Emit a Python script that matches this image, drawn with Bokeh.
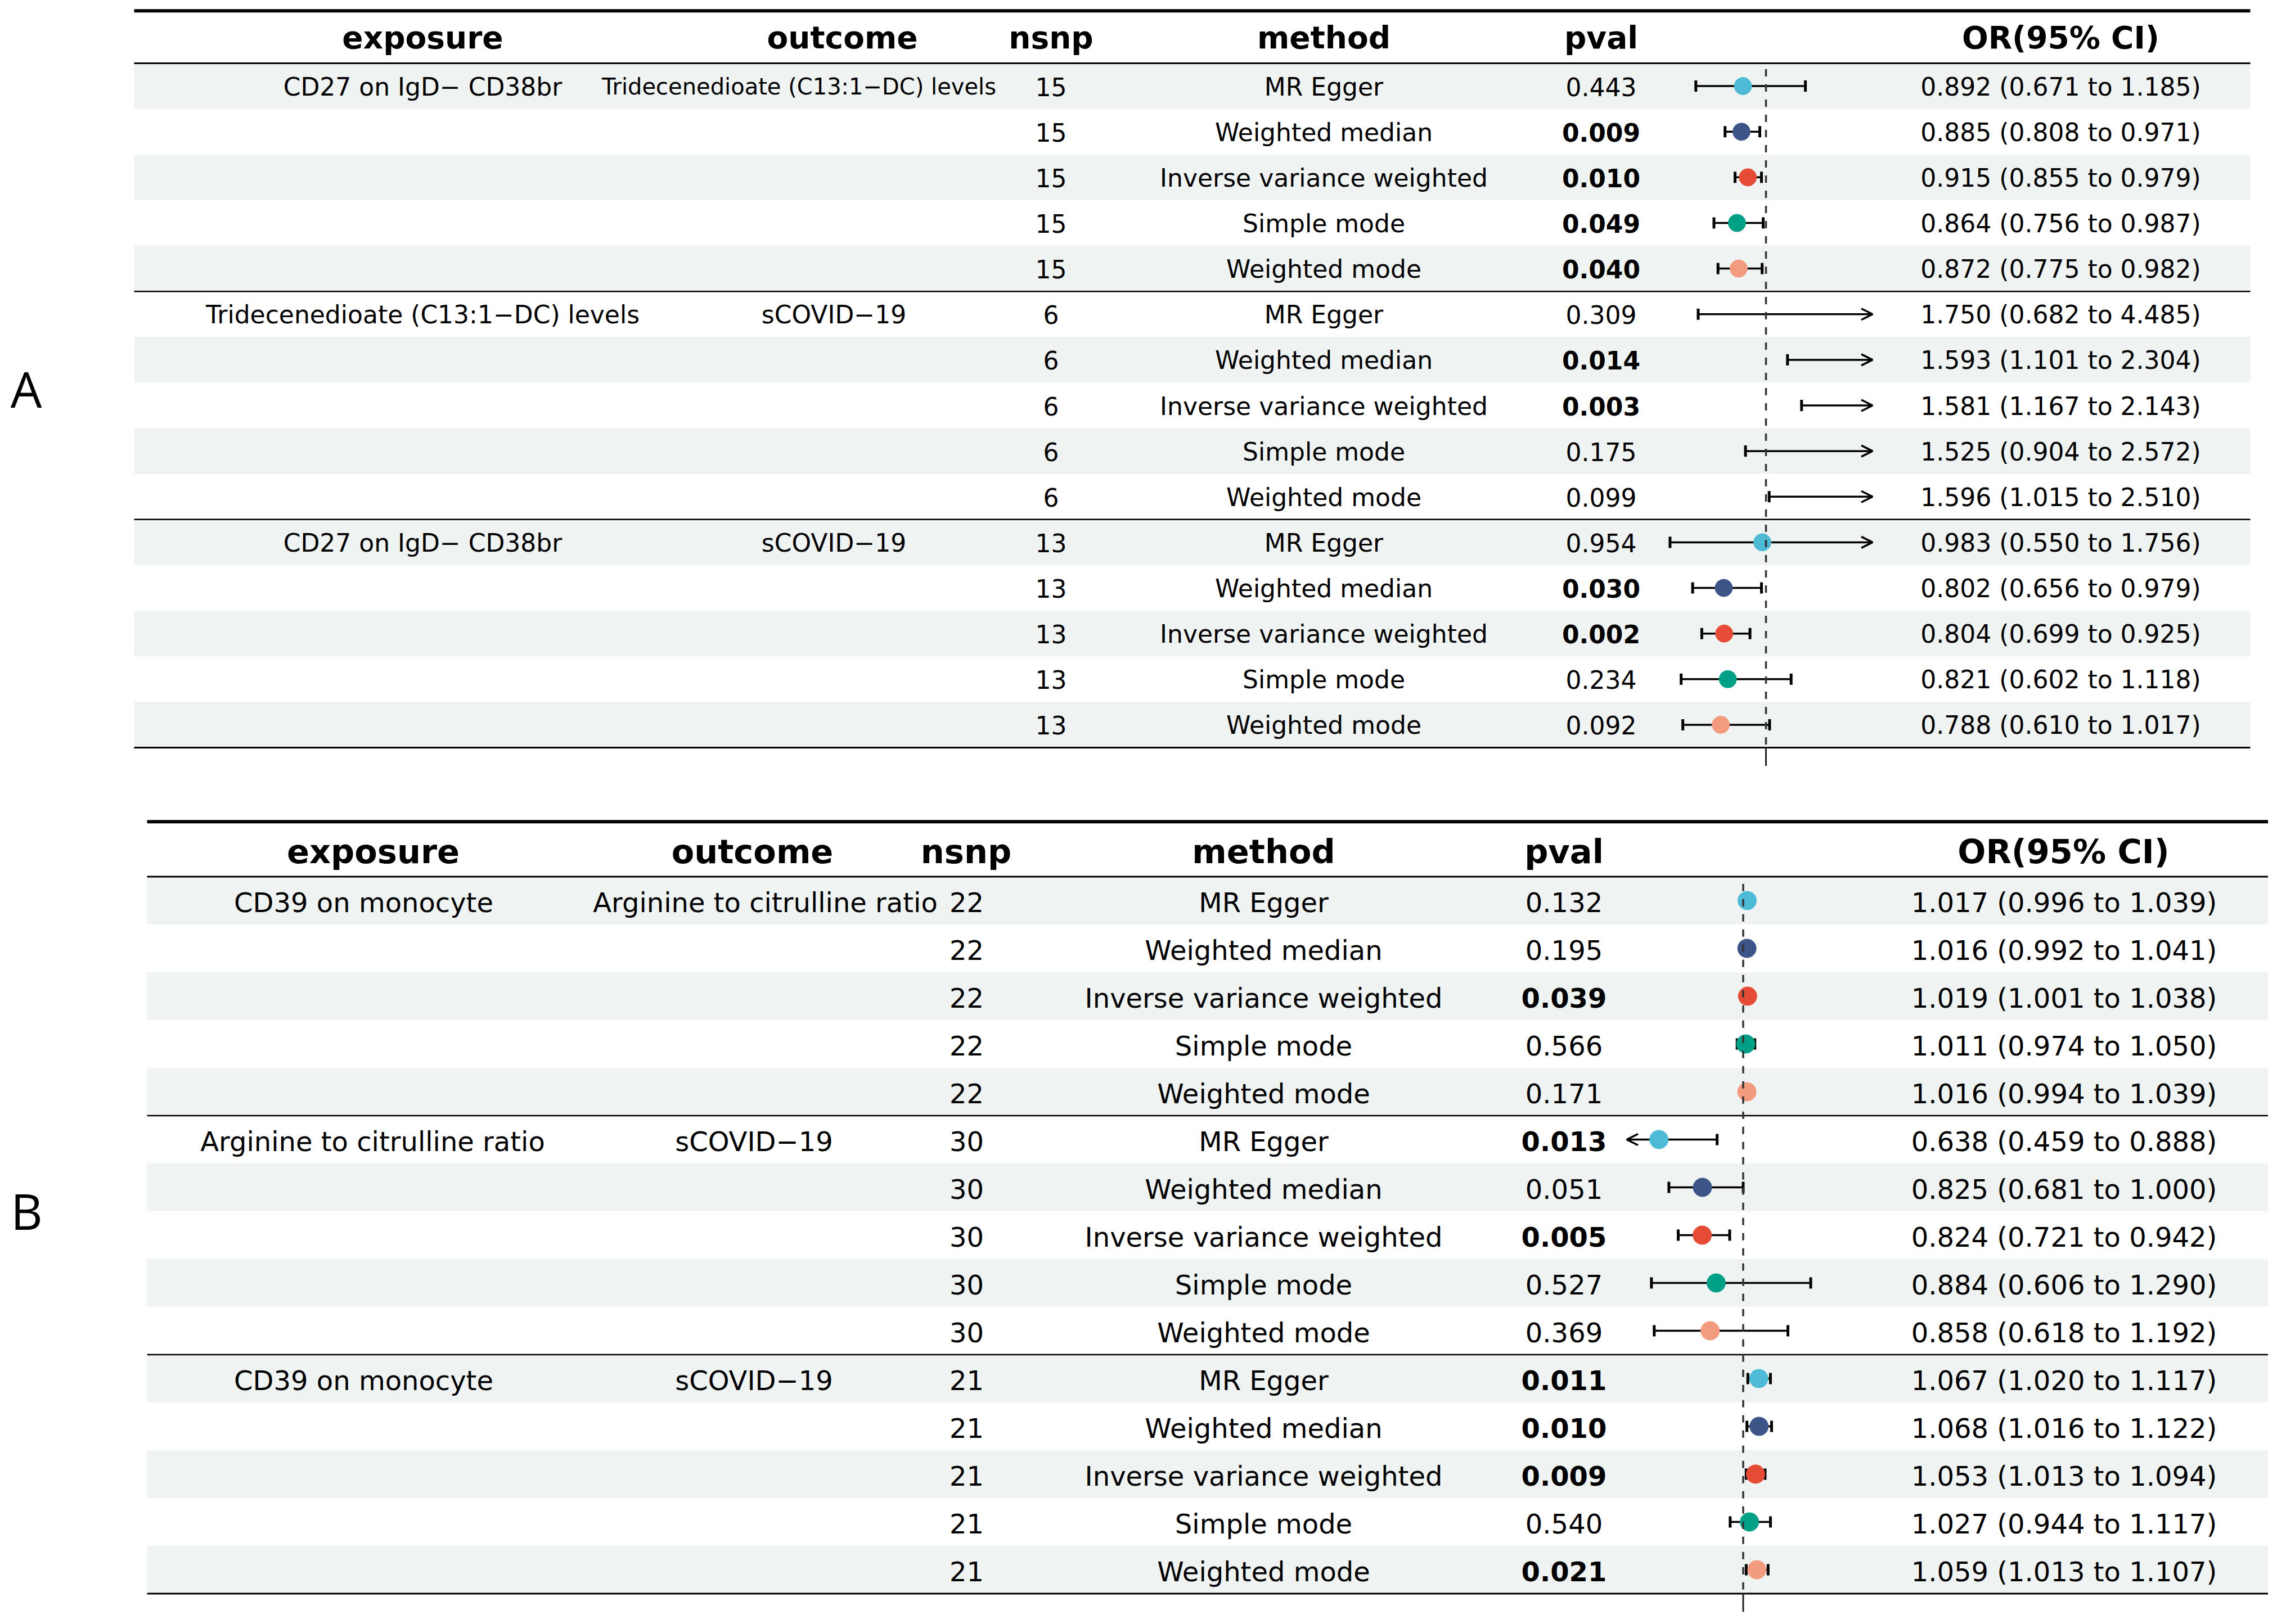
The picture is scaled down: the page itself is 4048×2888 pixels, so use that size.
import math
from bokeh.plotting import figure
from bokeh.models import Range1d, ColumnDataSource, Arrow, OpenHead
from bokeh.embed import file_html
from bokeh.resources import INLINE
from bokeh.core.properties import value

# ---------------- data ----------------
headers = ["exposure", "outcome", "nsnp", "method", "pval", "OR(95% CI)"]
methods = ["MR Egger", "Weighted median", "Inverse variance weighted", "Simple mode", "Weighted mode"]
method_colors = ["#4DBBD5", "#3C5488", "#E64B35", "#00A087", "#F39B7F"]
panel_labels = ["A", "B"]

a_exposure = ["CD27 on IgD\u2212 CD38br", "Tridecenedioate (C13:1\u2212DC) levels", "CD27 on IgD\u2212 CD38br"]
a_outcome = ["Tridecenedioate (C13:1\u2212DC) levels", "sCOVID\u221219", "sCOVID\u221219"]
a_nsnp = [15, 6, 13]
a_pval = [0.443, 0.009, 0.010, 0.049, 0.040,
          0.309, 0.014, 0.003, 0.175, 0.099,
          0.954, 0.030, 0.002, 0.234, 0.092]
a_or = [0.892, 0.885, 0.915, 0.864, 0.872,
        1.750, 1.593, 1.581, 1.525, 1.596,
        0.983, 0.802, 0.804, 0.821, 0.788]
a_lower = [0.671, 0.808, 0.855, 0.756, 0.775,
           0.682, 1.101, 1.167, 0.904, 1.015,
           0.550, 0.656, 0.699, 0.602, 0.610]
a_upper = [1.185, 0.971, 0.979, 0.987, 0.982,
           4.485, 2.304, 2.143, 2.572, 2.510,
           1.756, 0.979, 0.925, 1.118, 1.017]

b_exposure = ["CD39 on monocyte", "Arginine to citrulline ratio", "CD39 on monocyte"]
b_outcome = ["Arginine to citrulline ratio", "sCOVID\u221219", "sCOVID\u221219"]
b_nsnp = [22, 30, 21]
b_pval = [0.132, 0.195, 0.039, 0.566, 0.171,
          0.013, 0.051, 0.005, 0.527, 0.369,
          0.011, 0.010, 0.009, 0.540, 0.021]
b_or = [1.017, 1.016, 1.019, 1.011, 1.016,
        0.638, 0.825, 0.824, 0.884, 0.858,
        1.067, 1.068, 1.053, 1.027, 1.059]
b_lower = [0.996, 0.992, 1.001, 0.974, 0.994,
           0.459, 0.681, 0.721, 0.606, 0.618,
           1.020, 1.016, 1.013, 0.944, 1.013]
b_upper = [1.039, 1.041, 1.038, 1.050, 1.039,
           0.888, 1.000, 0.942, 1.290, 1.192,
           1.117, 1.122, 1.094, 1.117, 1.107]

x_limits = [0.5, 1.5]
ref_value = 1.0

# ---------------- layout (styling/positions) ----------------
W, H = 4032, 2872
M = 0
LAYOUT = {
    "A": dict(left=238, right=4000, or1=3139.0, or_px=379.0, row1=152.6, step=81.13,
              exp_x=[751, 751, 751], out_x=[1420, 1482, 1482], out_fs=[40, 44, 44],
              nsnp_x=1868, method_x=2353, pval_x=2846, ci_x=3663,
              head_x=[751, 1497, 1868, 2353, 2846, 3663],
              body_fs=44, head_fs=55, body_off=1, head_off=-5, pt=31,
              label_xy=(46, 690), dash_top=0.63, tick_end=15.9),
    "B": dict(left=261, right=4032, or1=3098.5, or_px=414.0, row1=1601.0, step=85.0,
              exp_x=[646, 662, 646], out_x=[1360, 1340, 1340], out_fs=[48, 48, 48],
              nsnp_x=1718, method_x=2246, pval_x=2780, ci_x=3669,
              head_x=[663, 1337, 1717, 2246, 2780, 3668],
              body_fs=48, head_fs=59, body_off=3, head_off=-2, pt=33,
              label_xy=(47, 2152), dash_top=0.65, tick_end=15.88),
}

p = figure(width=W, height=H, x_range=Range1d(M, M + W), y_range=Range1d(M + H, M),
           output_backend="svg", toolbar_location=None, min_border=0,
           x_axis_location=None, y_axis_location=None, outline_line_color=None)
p.grid.visible = False
p.background_fill_color = "white"
p.border_fill_color = "white"

FONT = value("DejaVu Sans")

panels = {
    "A": (a_exposure, a_outcome, a_nsnp, a_pval, a_or, a_lower, a_upper),
    "B": (b_exposure, b_outcome, b_nsnp, b_pval, b_or, b_lower, b_upper),
}

for label, (exposure, outcome, nsnp, pval, orv, lower, upper) in panels.items():
    L = LAYOUT[label]
    orn, rown = "or" + label, "rows" + label
    p.extra_x_ranges[orn] = Range1d(1 + (M - L["or1"]) / L["or_px"],
                                    1 + (M + W - L["or1"]) / L["or_px"])
    p.extra_y_ranges[rown] = Range1d(1 + (M + H - L["row1"]) / L["step"],
                                     1 + (M - L["row1"]) / L["step"])
    n = len(pval)
    rows = list(range(1, n + 1))
    ng = len(exposure)
    gsize = n // ng

    # shading
    shade_rows = [r for r in rows if r % 2 == 1]
    p.quad(left=[L["left"]] * len(shade_rows), right=[L["right"]] * len(shade_rows),
           top=[r - 0.5 for r in shade_rows], bottom=[r + 0.5 for r in shade_rows],
           y_range_name=rown, fill_color="#EFF3F2", line_color=None)

    # table rules
    rule_y = [-0.65, 0.5] + [g * gsize + 0.5 for g in range(1, ng)] + [n + 0.5]
    rule_w = [6, 3] + [2.5] * (ng - 1) + [3]
    p.segment(x0=[L["left"]] * len(rule_y), x1=[L["right"]] * len(rule_y),
              y0=rule_y, y1=rule_y, line_width=rule_w, line_color="black",
              y_range_name=rown)

    # headers
    hs = ColumnDataSource(dict(x=L["head_x"], y=[0] * len(headers), t=headers))
    p.text(x="x", y="y", text="t", source=hs, y_range_name=rown,
           text_font=FONT, text_font_style="bold", text_font_size=value(f"{L['head_fs']}px"),
           text_align="center", text_baseline="alphabetic", y_offset=L["head_off"],
           text_color="black")

    # group-level texts
    grows = [g * gsize + 1 for g in range(ng)]
    es = ColumnDataSource(dict(x=L["exp_x"], y=grows, t=exposure))
    p.text(x="x", y="y", text="t", source=es, y_range_name=rown,
           text_font=FONT, text_font_size=value(f"{L['body_fs']}px"),
           text_align="center", text_baseline="alphabetic", y_offset=L["body_off"],
           text_color="black")
    os_ = ColumnDataSource(dict(x=L["out_x"], y=grows, t=outcome,
                                fs=[f"{f}px" for f in L["out_fs"]]))
    p.text(x="x", y="y", text="t", source=os_, y_range_name=rown,
           text_font=FONT, text_font_size="fs",
           text_align="center", text_baseline="alphabetic", y_offset=L["body_off"],
           text_color="black")

    # row-level texts
    nsnp_t = [str(nsnp[(r - 1) // gsize]) for r in rows]
    meth_t = [methods[(r - 1) % gsize] for r in rows]
    pval_t = [f"{v:.3f}" for v in pval]
    pval_s = ["bold" if v < 0.05 else "normal" for v in pval]
    ci_t = [f"{o:.3f} ({lo:.3f} to {hi:.3f})" for o, lo, hi in zip(orv, lower, upper)]
    for xpos, texts, styles in [(L["nsnp_x"], nsnp_t, None), (L["method_x"], meth_t, None),
                                (L["pval_x"], pval_t, pval_s), (L["ci_x"], ci_t, None)]:
        d = dict(x=[xpos] * n, y=rows, t=texts)
        if styles is not None:
            d["st"] = styles
        src = ColumnDataSource(d)
        p.text(x="x", y="y", text="t", source=src, y_range_name=rown,
               text_font=FONT, text_font_size=value(f"{L['body_fs']}px"),
               text_font_style="st" if styles is not None else "normal",
               text_align="center", text_baseline="alphabetic", y_offset=L["body_off"],
               text_color="black")

    # forest: error bars
    lo_c = [max(v, x_limits[0]) for v in lower]
    hi_c = [min(v, x_limits[1]) for v in upper]
    p.segment(x0=lo_c, x1=hi_c, y0=rows, y1=rows, x_range_name=orn, y_range_name=rown,
              line_color="black", line_width=3.5)
    cap_x = [v for v in lower if v >= x_limits[0]] + [v for v in upper if v <= x_limits[1]]
    cap_y = [r for r, v in zip(rows, lower) if v >= x_limits[0]] + \
            [r for r, v in zip(rows, upper) if v <= x_limits[1]]
    p.scatter(x=cap_x, y=cap_y, marker="dash", angle=math.pi / 2, size=20,
              line_color="black", line_width=5, x_range_name=orn, y_range_name=rown)

    # arrows for clipped intervals
    ax_s, ax_e, ay = [], [], []
    for r, lo, hi in zip(rows, lower, upper):
        if hi > x_limits[1]:
            ax_s.append(x_limits[1] - 0.02); ax_e.append(x_limits[1]); ay.append(r)
        if lo < x_limits[0]:
            ax_s.append(x_limits[0] + 0.02); ax_e.append(x_limits[0]); ay.append(r)
    if ax_s:
        asrc = ColumnDataSource(dict(xs=ax_s, xe=ax_e, y=ay))
        p.add_layout(Arrow(end=OpenHead(size=20, line_width=3.5, line_color="black"),
                           x_start="xs", y_start="y", x_end="xe", y_end="y", source=asrc,
                           line_width=3.5, line_color="black",
                           x_range_name=orn, y_range_name=rown))

    # points
    pr = [(r, o, method_colors[(r - 1) % gsize]) for r, o in zip(rows, orv)
          if x_limits[0] <= o <= x_limits[1]]
    psrc = ColumnDataSource(dict(x=[t[1] for t in pr], y=[t[0] for t in pr], c=[t[2] for t in pr]))
    p.scatter(x="x", y="y", source=psrc, size=L["pt"], fill_color="c", line_color="c",
              line_width=1, x_range_name=orn, y_range_name=rown)

    # reference line at OR = 1
    p.segment(x0=[ref_value], x1=[ref_value], y0=[L["dash_top"]], y1=[n + 0.5],
              x_range_name=orn, y_range_name=rown, line_color="#333333",
              line_width=3.5, line_dash="13 14")
    p.segment(x0=[ref_value], x1=[ref_value], y0=[n + 0.5], y1=[L["tick_end"]],
              x_range_name=orn, y_range_name=rown, line_color="#222222", line_width=3)

# panel letters
lx = [LAYOUT[k]["label_xy"][0] for k in panel_labels]
ly = [LAYOUT[k]["label_xy"][1] for k in panel_labels]
p.text(x=lx, y=ly, text=panel_labels, text_font=value("Open Sans"),
       text_font_size=value("88px"), text_align="center", text_baseline="alphabetic",
       text_color="black")

open("out.html", "w").write(file_html(p, INLINE))
